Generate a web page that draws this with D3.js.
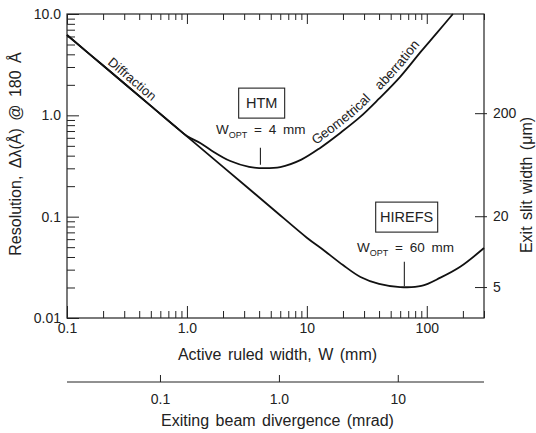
<!doctype html>
<html>
<head>
    <script src="https://d3js.org/d3.v7.min.js"></script>
    <style>
        body { margin: 0; background: #fff; }
        svg { font-family: "Liberation Sans", Arial, sans-serif; }
        .curve { fill: none; stroke: #111; stroke-width: 1.8; }
        .axis path { display: none; }
        .axis line { stroke: #222; stroke-width: 1; }
        .axis text { font-size: 14px; fill: #222; }
        .note { font-size: 13.5px; fill: #222; }
        .title { font-size: 16px; fill: #222; }
    </style>
</head>
<body>

<svg width="536" height="433"></svg>

<script>
    // HTM curve: diffraction limit joined to geometrical aberration (W in mm, resolution in A)
    var htmW = [0.1, 0.2, 0.5, 0.8, 1.0, 1.3, 1.6, 2.3, 3.3, 4, 6, 9, 13, 19, 28, 40, 60, 90, 120, 165];
    var htmR = [6.2, 3.1, 1.24, 0.775, 0.625, 0.53, 0.45, 0.354, 0.31, 0.302, 0.309, 0.366, 0.48, 0.67, 0.97, 1.46, 2.4, 4.3, 6.4, 10];

    // HIREFS curve
    var hirefsW = [0.1, 0.2, 0.5, 1, 2, 5, 10, 14, 20, 28, 40, 60, 90, 130, 190, 300];
    var hirefsR = [6.2, 3.1, 1.24, 0.62, 0.31, 0.124, 0.062, 0.0461, 0.0333, 0.0254, 0.0217, 0.0202, 0.0207, 0.025, 0.032, 0.049];

    var xTicks = [0.1, 1, 10, 100];
    var xTickLabels = ["0.1", "1.0", "10", "100"];
    var yTicks = [10, 1, 0.1, 0.01];
    var yTickLabels = ["10.0", "1.0", "0.1", "0.01"];

    // exit slit width ticks and the resolution they sit at
    var slitTicks = [200, 20, 5];
    var slitAtRes = [1.05, 0.101, 0.0202];

    // exiting beam divergence ticks and the ruled width they sit at
    var divTicks = [0.1, 1.0, 10];
    var divTickLabels = ["0.1", "1.0", "10"];
    var divAtW = [0.596, 5.85, 57.3];

    var svg = d3.select("svg"),
        margin = {left: 67, top: 14},
        width = 417, height = 304;

    var g = svg.append("g").attr("transform", "translate(" + margin.left + "," + margin.top + ")");

    var x = d3.scaleLog().domain([0.1, 300]).range([0, width]);
    var y = d3.scaleLog().domain([0.01, 10]).range([height, 0]);

    // minor ticks for each decade
    function minors(lo, hi) {
        var out = [];
        for (var d = lo; d < hi; d *= 10)
            for (var k = 2; k <= 9; k++) out.push(d * k);
        return out.filter(function(v) { return v <= hi; });
    }
    var xMinor = minors(0.1, 300), yMinor = minors(0.01, 10);

    // bottom
    g.append("g").attr("class", "axis").attr("transform", "translate(0," + height + ")")
        .call(d3.axisBottom(x).tickValues(xTicks).tickSize(-12).tickPadding(5)
            .tickFormat(function(d, i) { return xTickLabels[i]; }));
    g.append("g").attr("class", "axis").attr("transform", "translate(0," + height + ")")
        .call(d3.axisBottom(x).tickValues(xMinor).tickSize(-7).tickFormat(""));
    // top
    g.append("g").attr("class", "axis")
        .call(d3.axisTop(x).tickValues(xTicks).tickSize(-10).tickFormat(""));
    g.append("g").attr("class", "axis")
        .call(d3.axisTop(x).tickValues(xMinor).tickSize(-6).tickFormat(""));
    // left
    g.append("g").attr("class", "axis")
        .call(d3.axisLeft(y).tickValues(yTicks).tickSize(-12).tickPadding(6)
            .tickFormat(function(d, i) { return yTickLabels[i]; }));
    g.append("g").attr("class", "axis")
        .call(d3.axisLeft(y).tickValues(yMinor).tickSize(-8).tickFormat(""));

    // right: exit slit width
    var slit = d3.scaleLog().domain(slitTicks).range(slitAtRes.map(y));
    var right = g.append("g").attr("class", "axis").attr("transform", "translate(" + width + ",0)")
        .call(d3.axisRight(slit).tickValues(slitTicks).tickSize(3).tickPadding(6));
    right.selectAll(".tick").append("line").attr("x1", -9).attr("x2", 0);

    // frame
    g.append("rect").attr("width", width).attr("height", height)
        .attr("fill", "none").attr("stroke", "#222").attr("stroke-width", 1.2);

    // curves
    var line = d3.line()
        .x(function(d) { return x(d[0]); })
        .y(function(d) { return y(d[1]); })
        .curve(d3.curveCatmullRom.alpha(0.5));

    var htmPath = g.append("path").attr("id", "htmPath").attr("class", "curve")
        .attr("d", line(d3.zip(htmW, htmR)));
    var hirefsPath = g.append("path").attr("id", "hirefsPath").attr("class", "curve")
        .attr("d", line(d3.zip(hirefsW, hirefsR)));

    // length along a path where it reaches a given x
    function offsetAt(path, px) {
        var node = path.node(), len = node.getTotalLength();
        for (var s = 0; s < len; s += 0.5)
            if (node.getPointAtLength(s).x >= px) return s;
        return len;
    }

    g.append("text").attr("class", "note").attr("dy", -4).style("font-size", "13px")
        .append("textPath").attr("href", "#hirefsPath")
        .attr("startOffset", offsetAt(hirefsPath, x(0.205)))
        .text("Diffraction");

    g.append("text").attr("class", "note").attr("dy", -5).style("word-spacing", "9px")
        .append("textPath").attr("href", "#htmPath")
        .attr("startOffset", offsetAt(htmPath, x(12.4)))
        .text("Geometrical aberration");

    // boxed instrument labels
    function boxLabel(cx, cy, w, h, label) {
        g.append("rect").attr("x", cx - w / 2).attr("y", cy - h / 2).attr("width", w).attr("height", h)
            .attr("fill", "#fff").attr("stroke", "#222").attr("stroke-width", 1.1);
        g.append("text").attr("class", "note").attr("x", cx).attr("y", cy + 5)
            .attr("text-anchor", "middle").style("font-size", "14.5px").text(label);
    }
    boxLabel(x(4.2), y(1.32), 46, 30, "HTM");
    boxLabel(x(68), y(0.099), 62, 30, "HIREFS");

    function woptLabel(px, py, rest) {
        var t = g.append("text").attr("class", "note").attr("x", px).attr("y", py);
        t.append("tspan").text("W");
        t.append("tspan").attr("dy", 4).style("font-size", "9px").text("OPT");
        t.append("tspan").attr("dy", -4).style("word-spacing", "3px").text(" = " + rest);
    }
    woptLabel(x(0.1) + 149, y(0.65), "4 mm");
    woptLabel(x(0.1) + 290, y(0.045), "60 mm");

    // optimum markers
    var markW = [4.1, 65], markLo = [0.325, 0.0206], markHi = [0.48, 0.036];
    g.selectAll(".mark").data(markW).enter().append("line")
        .attr("x1", function(d) { return x(d); }).attr("x2", function(d) { return x(d); })
        .attr("y1", function(d, i) { return y(markLo[i]); })
        .attr("y2", function(d, i) { return y(markHi[i]); })
        .attr("stroke", "#222").attr("stroke-width", 1.1);

    // axis titles
    g.append("text").attr("class", "title").attr("x", width / 2 + 2).attr("y", height + 42)
        .attr("text-anchor", "middle").style("word-spacing", "2px")
        .text("Active ruled width, W (mm)");
    svg.append("text").attr("class", "title").attr("transform", "translate(21,154) rotate(-90)")
        .attr("text-anchor", "middle").style("word-spacing", "3px")
        .text("Resolution, \u0394\u03bb(\u00c5) @ 180 \u00c5");
    svg.append("text").attr("class", "title").attr("transform", "translate(532,185) rotate(-90)")
        .attr("text-anchor", "middle").style("word-spacing", "2px")
        .text("Exit slit width (\u03bcm)");

    // second scale: exiting beam divergence
    var div = d3.scaleLog().domain(divTicks).range(divAtW.map(x));
    var d2 = g.append("g").attr("class", "axis").attr("transform", "translate(0," + (height + 64) + ")");
    d2.append("line").attr("x1", 0).attr("x2", width);
    d2.call(d3.axisBottom(div).tickValues(divTicks).tickSize(-7).tickPadding(12)
        .tickFormat(function(d, i) { return divTickLabels[i]; }));
    g.append("text").attr("class", "title").attr("x", width / 2 + 2).attr("y", height + 108)
        .attr("text-anchor", "middle").style("word-spacing", "2px")
        .text("Exiting beam divergence (mrad)");
</script>
</body>
</html>
